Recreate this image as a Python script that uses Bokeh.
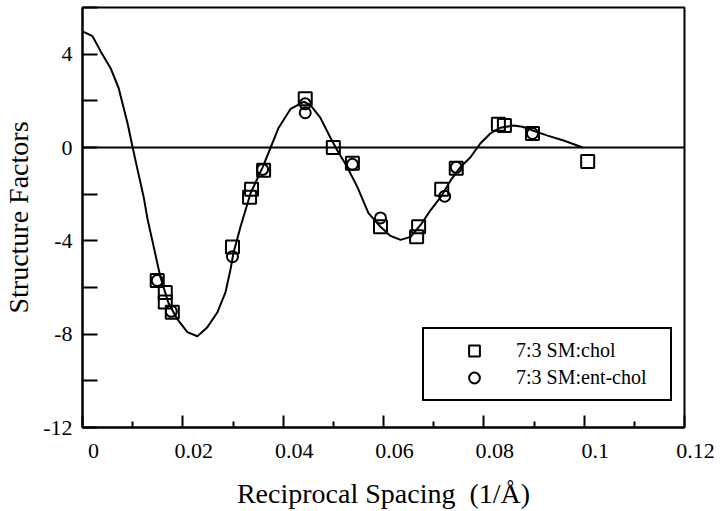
from bokeh.plotting import figure
from bokeh.models import FixedTicker, Span, Legend, LegendItem, Range1d
from bokeh.embed import file_html
from bokeh.resources import INLINE

# ---- data ----
fit_x = [0, 0.0020, 0.0036, 0.0056, 0.0072, 0.0090, 0.0100, 0.0110, 0.0122, 0.0130,
         0.0142, 0.0155, 0.0171, 0.0189, 0.0209, 0.0229, 0.0249, 0.0269, 0.0285, 0.0295,
         0.0301, 0.0315, 0.0335, 0.0359, 0.0375, 0.0391, 0.0415, 0.0441, 0.0454, 0.0474,
         0.0494, 0.0508, 0.0528, 0.0548, 0.0570, 0.0594, 0.0614, 0.0634, 0.0654, 0.0674,
         0.0694, 0.0714, 0.0734, 0.0753, 0.0773, 0.0793, 0.0813, 0.0833, 0.0859, 0.0877,
         0.0899, 0.0927, 0.0959, 0.0997]
fit_y = [4.98, 4.77, 4.13, 3.40, 2.55, 1.02, 0.0, -0.98, -2.13, -3.11,
         -4.26, -5.53, -6.64, -7.36, -7.91, -8.09, -7.70, -7.06, -6.21, -5.23,
         -4.51, -3.40, -1.96, -0.85, 0.0, 0.85, 1.66, 1.96, 1.83, 1.28,
         0.43, -0.13, -0.85, -1.70, -2.81, -3.40, -3.79, -3.96, -3.83, -3.32,
         -2.68, -2.13, -1.40, -0.85, -0.43, 0.17, 0.60, 0.85, 0.94, 0.89,
         0.72, 0.51, 0.30, 0.0]

chol_x = [0.0149, 0.0165, 0.0165, 0.0179, 0.0299, 0.0333, 0.0337, 0.0361, 0.0444, 0.0500,
          0.0538, 0.0594, 0.0666, 0.0670, 0.0716, 0.0745, 0.0829, 0.0841, 0.0897, 0.1007]
chol_y = [-5.70, -6.21, -6.62, -7.06, -4.26, -2.13, -1.79, -0.98, 2.09, 0.0,
          -0.68, -3.40, -3.83, -3.40, -1.79, -0.89, 1.00, 0.94, 0.60, -0.60]

ent_x = [0.0149, 0.0177, 0.0299, 0.0359, 0.0444, 0.0444, 0.0538, 0.0594, 0.0722, 0.0745, 0.0897]
ent_y = [-5.70, -7.02, -4.68, -0.94, 1.87, 1.49, -0.72, -3.02, -2.09, -0.85, 0.60]

x_ticks = [0, 0.02, 0.04, 0.06, 0.08, 0.1, 0.12]
x_tick_labels = ["0", "0.02", "0.04", "0.06", "0.08", "0.1", "0.12"]
x_minor = [0.01, 0.03, 0.05, 0.07, 0.09, 0.11]
y_ticks = [-12, -8, -4, 0, 4]
y_tick_labels = ["-12", "-8", "-4", "0", "4"]
y_minor = [-10, -6, -2, 2, 6]

series_labels = ["7:3 SM:chol", "7:3 SM:ent-chol"]

FONT = "Liberation Serif"

p = figure(width=720, height=511, output_backend="svg", toolbar_location=None,
           x_range=Range1d(0, 0.12), y_range=Range1d(-12, 6),
           min_border_left=82, min_border_right=36, min_border_top=7, min_border_bottom=83)

p.background_fill_color = "white"
p.border_fill_color = "white"
p.outline_line_color = "black"
p.outline_line_width = 2
p.xgrid.visible = False
p.ygrid.visible = False

p.xaxis.ticker = FixedTicker(ticks=x_ticks, minor_ticks=x_minor)
p.yaxis.ticker = FixedTicker(ticks=y_ticks, minor_ticks=y_minor)
# in the original print the x tick labels sit a little to the right of their ticks
p.xaxis.major_label_overrides = {t: "\u2003" + s for t, s in zip(x_ticks, x_tick_labels)}
p.yaxis.major_label_overrides = dict(zip(y_ticks, y_tick_labels))

for ax in (p.xaxis[0], p.yaxis[0]):
    ax.axis_line_width = 2
    ax.axis_line_color = "black"
    ax.major_tick_line_width = 2
    ax.minor_tick_line_width = 2
    ax.major_tick_line_color = "black"
    ax.minor_tick_line_color = "black"
    ax.major_tick_out = 0
    ax.minor_tick_out = 0
    ax.major_label_text_font = FONT
    ax.major_label_text_font_size = "22px"
    ax.major_label_text_color = "black"
    ax.axis_label_text_font = FONT
    ax.axis_label_text_font_size = "28px"
    ax.axis_label_text_font_style = "normal"
    ax.axis_label_text_color = "black"

p.xaxis.major_tick_in = 12
p.xaxis.minor_tick_in = 6
p.xaxis.major_label_standoff = 10
p.xaxis.axis_label = "Reciprocal Spacing\u00a0 (1/Å)"
p.xaxis.axis_label_standoff = 12
p.yaxis.major_tick_in = 15
p.yaxis.minor_tick_in = 15
p.yaxis.major_label_standoff = 10
p.yaxis.axis_label = "Structure Factors"
p.yaxis.axis_label_standoff = 6

p.add_layout(Span(location=0, dimension="width", line_color="black", line_width=2))

p.line(fit_x, fit_y, line_color="black", line_width=2)
r1 = p.scatter(chol_x, chol_y, marker="square", size=13, line_color="black",
               line_width=2, fill_alpha=0)
r2 = p.scatter(ent_x, ent_y, marker="circle", size=11, line_color="black",
               line_width=2, fill_alpha=0)

legend = Legend(items=[LegendItem(label=series_labels[0], renderers=[r1]),
                       LegendItem(label=series_labels[1], renderers=[r2])],
                location=(340, 26), padding=8, spacing=0,
                glyph_width=84, glyph_height=27, label_standoff=0, label_width=146,
                label_height=27, margin=0,
                label_text_font=FONT, label_text_font_size="20px", label_text_color="black",
                border_line_color="black", border_line_width=2, border_line_alpha=1,
                background_fill_color="white", background_fill_alpha=1)
p.add_layout(legend)

open("out.html", "w").write(file_html(p, INLINE))
